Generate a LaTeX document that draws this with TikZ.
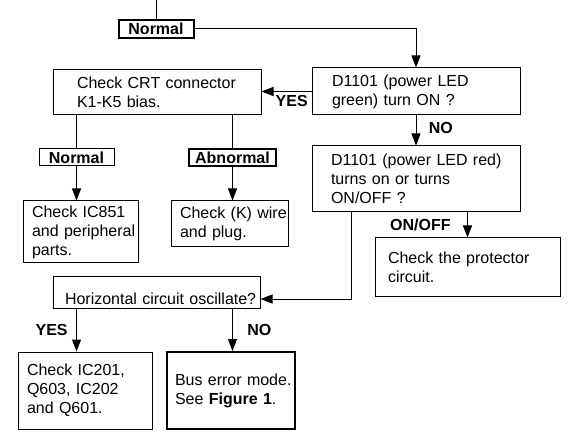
\documentclass[tikz,border=0pt]{standalone}
\usepackage{fontspec}
\setmainfont{Liberation Sans}
\usetikzlibrary{arrows.meta,positioning}
\tikzset{
  flow/.style = {draw, rectangle, line width = 1pt, align = left, inner sep = 0pt, font = \fontsize{16}{19}\selectfont},
  heavy/.style = {flow, line width = 2pt},
  tag/.style = {draw, rectangle, line width = 1pt, inner sep = 0pt, font = \bfseries\fontsize{16}{19}\selectfont},
  note/.style = {font = \bfseries\fontsize{16}{19}\selectfont},
  link/.style = {line width = 1pt, -{Triangle[length = 12pt, width = 9pt]}}
}
\begin{document}
\begin{tikzpicture}[x = 1pt, y = -1pt]
\useasboundingbox (0, 0) rectangle (588, 435);
\coordinate (top) at (156, 0);
\node[tag, line width = 2pt, minimum width = 75pt, minimum height = 18pt] (normA) at (156, 29) {Normal};
\node[flow, minimum width = 208pt, minimum height = 47pt, text width = 168pt] (green) at (416, 91.5) {D1101 (power LED\\green) turn ON ?};
\node[flow, minimum width = 208pt, minimum height = 45pt, text width = 160pt] (crt) at (157, 92.5) {Check CRT connector\\K1-K5 bias.};
\node[flow, minimum width = 208pt, minimum height = 66pt, text width = 170pt] (red) at (416, 179) {\mbox{D1101 (power LED red)}\\turns on or turns\\ON/OFF ?};
\node[tag, minimum width = 75pt, minimum height = 17pt] (normB) at (76.5, 157.5) {Normal};
\node[tag, line width = 2pt, minimum width = 87pt, minimum height = 17pt] (abn) at (232.5, 157.5) {Abnormal};
\node[flow, minimum width = 115pt, minimum height = 62pt, text width = 97pt] (ic851) at (80.5, 232) {Check IC851\\\mbox{and peripheral}\\parts.};
\node[flow, minimum width = 117pt, minimum height = 46pt, text width = 99pt] (wire) at (229.5, 224) {\mbox{Check (K) wire}\\and plug.};
\node[flow, minimum width = 185pt, minimum height = 58pt, text width = 159pt] (prot) at (467.5, 267) {Check the protector\\circuit.};
\node[flow, minimum width = 207pt, minimum height = 32pt, text width = 183pt, text height = 26pt] (horiz) at (156.5, 292) {\mbox{Horizontal circuit oscillate?}};
\node[flow, minimum width = 134pt, minimum height = 77pt, text width = 116pt] (ic201) at (85, 390.5) {Check IC201,\\Q603, IC202\\and Q601.};
\node[heavy, minimum width = 128pt, minimum height = 77pt, text width = 112pt] (bus) at (231, 390.5) {\mbox{Bus error mode.}\\See \textbf{Figure 1}.};
\draw[line width = 1pt] (top) -- (normA.north);
\draw[link] (normA.east) -| (green.north);
\draw[link] (green.west) node[below left, note] {YES} -- (green.west -| crt.east);
\draw[link] (green.south) -- node[right = 9pt, pos = 0.4, note] {NO} (red.north);
\draw[line width = 1pt] (normB |- crt.south) -- (normB.north);
\draw[link] (normB.south) -- (normB.south |- ic851.north);
\draw[line width = 1pt] (abn |- crt.south) -- (abn.north);
\draw[link] (abn.south) -- (abn.south |- wire.north);
\draw[link] (prot.north |- red.south) -- node[left = 13pt, note] {ON/OFF} (prot.north);
\draw[link] ([xshift = 40pt]red.south west) |- ([yshift = -7pt]horiz.east);
\draw[link] (normB |- horiz.south) -- node[left = 5pt, note] {YES} (normB |- ic201.north);
\draw[link] (abn |- horiz.south) -- node[right = 11pt, note] {NO} (abn |- bus.north);
\end{tikzpicture}
\end{document}
